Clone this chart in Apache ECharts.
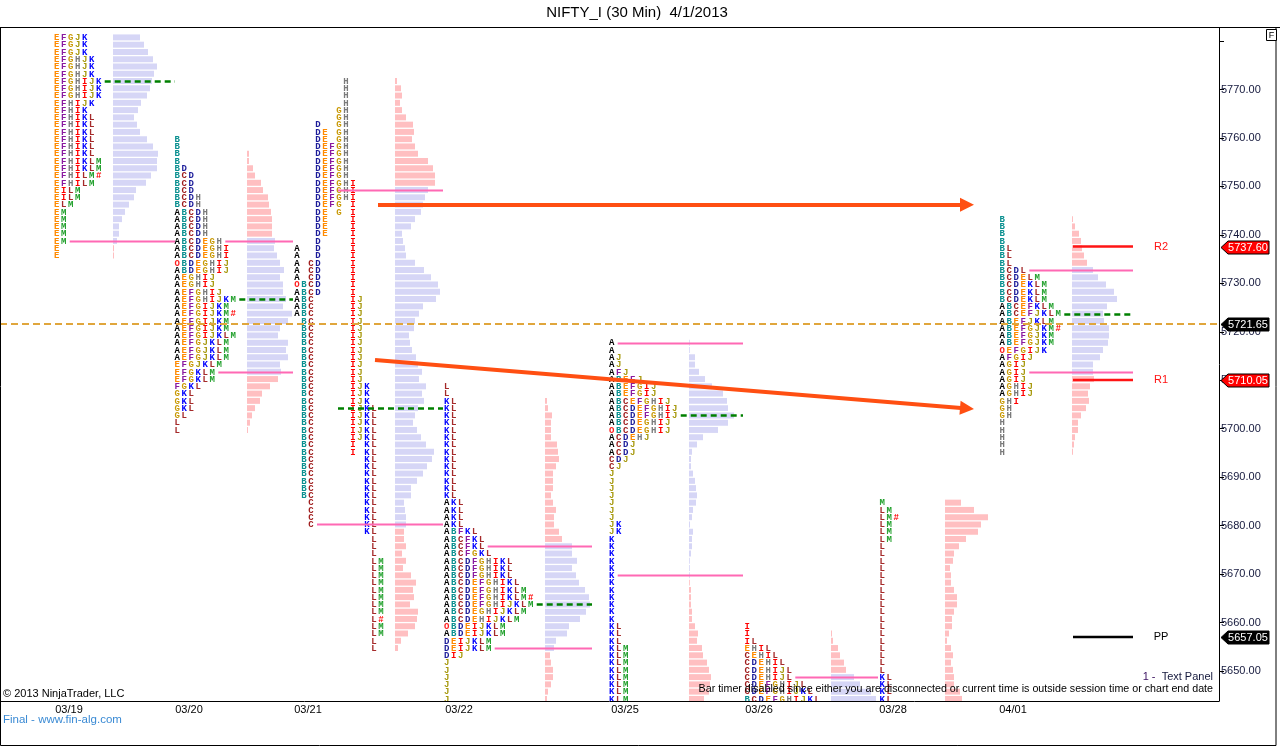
<!DOCTYPE html>
<html>
<head>
<meta charset="utf-8">
<title>NIFTY_I (30 Min) 4/1/2013</title>
<script src="https://cdn.jsdelivr.net/npm/echarts@6/dist/echarts.min.js"></script>
<style>
html,body{margin:0;padding:0;background:#fff;}
#chart{width:1280px;height:747px;}
</style>
</head>
<body>
<div id="chart"></div>
<script>
// ---- data ----
var rowSize = 1.5;
var days = ['03/19', '03/20', '03/21', '03/22', '03/25', '03/26', '03/28', '04/01'];
var topPrice = [5780.75, 5759.75, 5771.75, 5708.75, 5717.75, 5659.25, 5684.75, 5743.25];
var vaHigh   = [5784.25, 5738.75, 5749.25, 5675.75, 5717.75, 5648.75, 5640.00, 5732.75];
var pocPrice = [5771.75, 5726.75, 5704.25, 5663.75, 5702.75, 5630.00, 5620.00, 5723.75];
var vaLow    = [5738.75, 5711.75, 5680.25, 5654.75, 5669.75, 5600.00, 5600.00, 5711.75];

// TPO letters, one string per price row, top row first
var tpo0319 = ['EFGJK','EFGJK','EFGJK','EFGHJK','EFGHJK','EFGHJK','EFGHIJK','EFGHIJK','EFGHIJK','EFHIJK',
  'EFHIK','EFHIKL','EFHIKL','EFHIKL','EFHIKL','EFHIKL','EFHIKL','EFHIKLM','EFHIKLM','EFHILM#',
  'EFHILM','EILM','EILM','ELM','EM','EM','EM','EM','EM','E','E'];
var tpo0320 = ['B','B','B','B','BD','BCD','BCD','BCD','BCDH','BCDH',
  'ABCDH','ABCDH','ABCDH','ABCDH','ABCDEGH','ABCDEGHI','ABCDEGHI','OBDEGHIJ','ABDEGHIJ','AEGHIJ',
  'AEGHIJ','AEFGHIJ','AEFGHIJKM','AEFGIJKM','AEFGIJKM#','AEFGIJKM','AEFGIJKM','AEFGIJKLM','AEFGJKLM','AEFGJKLM',
  'AEFGJKLM','EFGJKLM','EFGKLM','EFGKLM','FGKL','GKL','GKL','GKL','GL','L','L'];
var tpo0321 = ['       H','       H','       H','       H','      GH','      GH','   D  GH','   DE GH','   DE GH','   DEFGH',
  '   DEFGH','   DEFGH','   DEFGH','   DEFGH','   DEFGHI','   DEFGHI','   DEFGHI','   DEFG I','   DE G I','   DE   I',
  '   DE   I','   DE   I','   D    I','A  D    I','A  D    I','A CD    I','A CD    I','A CD    I','OBCD    I','ABCD    I',
  'ABC     IJ','ABC     IJ','ABC     IJ',' BC     IJ',' BC     IJ',' BC     IJ',' BC     IJ',' BC     IJ',' BC     IJ',' BC     IJ',
  ' BC     IJ',' BC     IJ',' BC     IJK',' BC     IJK',' BC     IJK',' BC     IJKL',' BC     IJKL',' BC     IJKL',' BC     IJKL',' BC     IJKL',
  ' BC     I KL',' BC     I KL',' BC       KL',' BC       KL',' BC       KL',' BC       KL',' BC       KL',' BC       KL','  C       KL','  C       KL',
  '  C       KL','  C       KL','          KL','           L','           L','           L','           LM','           LM','           LM','           LM',
  '           LM','           LM','           LM','           LM','           L#','           LM','           LM','           L','           L'];
var tpo0322 = ['L','L','KL','KL','KL','KL','KL','KL','KL','KL',
  'KL','KL','KL','KL','KL','KL','AKL','AKL','AKL','AKL',
  'ABFKL','ABCFKL','ABCFKL','ABCFGKL','ABCDFGHIKL','ABCDFGHIKL','ABCDFGHIKL','ABCDEFGHIKL','ABCDEFGHIKLM','ABCDEFGHIKLM#',
  'ABCDEFGHIJKLM','ABCDEGHIJKLM','ABCDEHIJKLM','OBDEIJKLM','ABDEIJKLM','DEIJKLM','DEIJKLM','DIJ','J','J',
  'J','J','J','J'];
var tpo0325 = ['A','A','AJ','AJ','AFJ','ABEFJ','ABEFGIJ','ABEFGIJ','ABCEFGHIJ','ABCDEFGHIJ',
  'ABCDEFGHIJ','ABCDEGHIJ','OBCDEGHIJ','ACDEHJ','ACDJ','ACDJ','CDJ','CJ','J','J',
  'J','J','J','J','J','JK','JK','K','K','K',
  'K','K','K','K','K','K','K','K','K','KL',
  'KL','KL','KLM','KLM','KLM','KLM','KLM','KLM','KLM','KLM'];
var tpo0326 = ['I','I','IL','EHIL','CEHIL','CDEHIL','CDEHIJL','CDEHIJL','CDEFGHIJL','CDEFGHIJKL','BCDEFGHIJKL'];
var tpo0328 = ['M','LM','LM#','LM','LM','LM','L','L','L','L',
  'L','L','L','L','L','L','L','L','L','L',
  'L','L','L','L','KL','KL','KL','KL'];
var tpo0401 = ['B','B','B','B','BL','BL','BL','BCDL','BCDELM','BCDEKLM',
  'BCDEKLM','BCDEKLM','ABCEFKLM','ABCEFJKLM','ABEFJKLM','ABEFGJKM#','ABEFGJKM','ABEFGJKM','OEFGIJK','AFGIJ',
  'AGIJ','AGIJ','AGIJ','AGHIJ','AGHIJ','GHI','GH','GH','H','H',
  'H','H','H'];
var tpoRows = [tpo0319, tpo0320, tpo0321, tpo0322, tpo0325, tpo0326, tpo0328, tpo0401];

// volume histogram per price row (same rows as letters)
var vol0319 = [27,31,35,40,44,41,39,37,34,28,25,21,24,27,34,40,45,44,44,38,33,23,21,16,12,9,6,6,4,1,1];
var vol0320 = [0,0,2,2,6,8,14,16,21,22,24,25,25,25,28,27,30,33,37,33,36,36,39,36,45,41,33,31,41,39,41,33,34,31,23,15,13,8,5,3,1];
var vol0321 = [2,6,7,5,7,11,18,19,17,20,23,33,38,40,40,33,30,28,26,20,16,7,8,10,11,20,29,36,43,45,41,28,24,20,19,14,15,17,21,23,
  27,24,31,27,29,23,20,18,22,26,31,39,37,32,28,22,16,16,9,10,11,11,9,9,11,7,11,8,16,21,18,19,15,23,22,20,13,6,3];
var vol0322 = [0,0,2,3,7,6,6,6,12,13,14,11,8,8,8,6,8,11,9,9,14,17,27,27,32,27,31,34,40,44,45,41,35,24,22,11,9,5,6,8,8,6,3,2];
var vol0325 = [0.5,0.5,6,6,10,16,23,34,38,39,45,39,29,14,8,3,2,2,4,6,7,8,7,4,3,1,4,3,3,2,0.7,0.7,0.7,0.5,2,2,2,3,3,6,9,8,13,14,18,20,22,21,20,15];
var vol0326 = [0,1,2,7,9,13,15,23,29,40,45];
var vol0328 = [16,29,43,36,33,21,14,9,8,5,6,6,9,12,12,9,7,7,4,2,6,8,6,8,9,9,15,17];
var vol0401 = [1,3,7,9,10,12,15,21,26,34,42,45,35,31,32,37,37,36,31,28,21,21,22,18,16,17,14,9,6,6,3,2,1];
var volRows = [vol0319, vol0320, vol0321, vol0322, vol0325, vol0326, vol0328, vol0401];

var levelNames = ['R2', 'R1', 'PP'];
var levelValues = [5737.60, 5710.05, 5657.05];
var lastPrice = 5721.65;
var yTicks = [5650, 5660, 5670, 5680, 5690, 5700, 5710, 5720, 5730, 5740, 5750, 5760, 5770, 5780];
var yLabels = [5650, 5660, 5670, 5680, 5690, 5700, 5710, 5720, 5730, 5740, 5750, 5760, 5770];

// ---- layout (x in plot pixels) ----
var colW = 7;
var colX = [56.7, 177.3, 297, 446.7, 611.7, 747.3, 882.3, 1002.3];
var histX = [113, 247, 395, 545, 689, 831, 945, 1072];
var lineEnd = [175, 293, 443, 592, 743, 878, 995, 1133];
var dayTickX = [69, 189, 308, 459, 625, 759, 893, 1013];
var levelX = [1073, 1133, 1161];
var arrow1 = [[378, 5746.2], [967, 5746.2]];
var arrow2 = [[375, 5714.2], [967, 5704.2]];

var letterColor = {A:'#000000', B:'#0a9090', C:'#a01e1e', D:'#1c1c9a', E:'#ff8a00', F:'#8a1aa0', G:'#c99a06',
  H:'#7a7a7a', I:'#ff0000', J:'#a89a10', K:'#0000ff', L:'#a52a2a', M:'#1f9f2a', O:'#ff2020', '#':'#ff0000'};
var LETTER_FONT = 'bold 9px "Liberation Mono"';
var TXT = '"Liberation Sans", Arial, sans-serif';

// rows for the custom series
var rowItems = [];
for (var p = 0; p < tpoRows.length; p++) {
  for (var r = 0; r < tpoRows[p].length; r++) rowItems.push([p, r]);
}
var profItems = days.map(function (d, i) { return [i, 0]; });

function rowPrice(p, r) { return topPrice[p] - r * rowSize; }
function rowAt(p, price) {
  var r = Math.round((topPrice[p] - price) / rowSize);
  return (r >= 0 && r < tpoRows[p].length) ? r : -1;
}

function renderBar(params, api) {
  var p = api.value(0), r = api.value(1);
  var len = volRows[p][r];
  if (!len) return null;
  var price = rowPrice(p, r);
  var a = api.coord([histX[p], price + rowSize * 0.41]);
  var b = api.coord([histX[p] + len, price - rowSize * 0.41]);
  var inVa = price <= vaHigh[p] + 0.01 && price >= vaLow[p] - 0.01;
  return {
    type: 'rect',
    shape: { x: a[0], y: a[1], width: Math.max(b[0] - a[0], 0.8), height: b[1] - a[1] },
    style: { fill: inVa ? '#d6d6f6' : '#ffbfc1' }
  };
}

function renderLetters(params, api) {
  var p = api.value(0), r = api.value(1);
  var row = tpoRows[p][r], price = rowPrice(p, r);
  var kids = [];
  for (var i = 0; i < row.length; i++) {
    var ch = row.charAt(i);
    if (ch === ' ') continue;
    var pt = api.coord([colX[p] + i * colW, price]);
    kids.push({
      type: 'text', x: pt[0], y: pt[1] + 0.5,
      style: { text: ch, fill: letterColor[ch], font: LETTER_FONT, align: 'center', verticalAlign: 'middle' }
    });
  }
  return { type: 'group', children: kids };
}

function renderProfileLines(params, api) {
  var p = api.value(0);
  var marks = [[vaHigh[p], false], [pocPrice[p], true], [vaLow[p], false]];
  var kids = [];
  marks.forEach(function (m) {
    var r = rowAt(p, m[0]);
    if (r < 0) return;
    var n = tpoRows[p][r].replace(/ /g, '').length;
    var a = api.coord([colX[p] + n * colW - 1, m[0]]);
    var b = api.coord([lineEnd[p], m[0]]);
    kids.push({
      type: 'line',
      shape: { x1: a[0], y1: Math.round(a[1]) + 0.5, x2: b[0], y2: Math.round(b[1]) + 0.5 },
      style: m[1] ? { stroke: '#008000', lineWidth: 2.5, lineDash: [6, 4] } : { stroke: '#ff69b4', lineWidth: 2 }
    });
  });
  return { type: 'group', children: kids };
}

function renderLevels(params, api) {
  var i = api.value(0);
  var v = levelValues[i];
  var col = levelNames[i] === 'PP' ? '#000000' : '#ff1414';
  var a = api.coord([levelX[0], v]), b = api.coord([levelX[1], v]), c = api.coord([levelX[2], v]);
  return {
    type: 'group',
    children: [
      { type: 'line', shape: { x1: a[0], y1: a[1], x2: b[0], y2: b[1] }, style: { stroke: col, lineWidth: 2.5 } },
      { type: 'text', x: c[0], y: c[1], style: { text: levelNames[i], fill: col, font: '11px ' + TXT, align: 'center', verticalAlign: 'middle' } }
    ]
  };
}

var tagValues = [levelValues[0], lastPrice, levelValues[1], levelValues[2]];
var tagFill = ['#ff0000', '#000000', '#ff0000', '#000000'];
function renderTag(params, api) {
  var i = api.value(0);
  var pt = api.coord([1219, tagValues[i]]);
  var x = pt[0], y = Math.round(pt[1]) + 0.5;
  return {
    type: 'group',
    children: [
      { type: 'polygon', shape: { points: [[x + 2, y], [x + 9, y - 6.5], [x + 50, y - 6.5], [x + 50, y + 6.5], [x + 9, y + 6.5]] },
        style: { fill: tagFill[i], stroke: '#000', lineWidth: 1 } },
      { type: 'text', x: x + 29, y: y + 0.5, style: { text: tagValues[i].toFixed(2), fill: '#fff', font: '11px ' + TXT, align: 'center', verticalAlign: 'middle' } }
    ]
  };
}

var chart = echarts.init(document.getElementById('chart'));
chart.setOption({
  animation: false,
  backgroundColor: '#ffffff',
  grid: { left: 0, right: 61, top: 28, bottom: 46, outerBoundsMode: 'none' },
  xAxis: {
    type: 'value', min: 0, max: 1219,
    splitLine: { show: false },
    axisLine: { show: true, onZero: false, lineStyle: { color: '#000', width: 1 } },
    axisTick: { show: false },
    axisLabel: {
      customValues: dayTickX, margin: 3, color: '#000', fontSize: 11, fontFamily: TXT,
      formatter: function (v) { var i = dayTickX.indexOf(v); return i >= 0 ? days[i] : ''; }
    }
  },
  yAxis: {
    type: 'value', position: 'right', min: 5643.82, max: 5782.69,
    splitLine: { show: false },
    axisLine: { show: true, onZero: false, lineStyle: { color: '#000', width: 1 } },
    axisTick: { show: true, length: 5, customValues: yTicks, lineStyle: { color: '#000' } },
    axisLabel: {
      customValues: yLabels, margin: 2, color: '#14183c', fontSize: 11, fontFamily: TXT,
      formatter: function (v) { return v.toFixed(2); }
    }
  },
  series: [
    { type: 'custom', name: 'volume', data: rowItems, renderItem: renderBar, clip: true, z: 2, silent: true },
    { type: 'custom', name: 'tpo', data: rowItems, renderItem: renderLetters, clip: true, z: 3, silent: true },
    { type: 'custom', name: 'va', data: profItems, renderItem: renderProfileLines, clip: true, z: 4, silent: true },
    {
      type: 'line', name: 'last', data: [], z: 4, silent: true,
      markLine: {
        silent: true, symbol: 'none', label: { show: false },
        lineStyle: { color: '#e0a63c', width: 2, type: [7, 4] },
        data: [{ yAxis: lastPrice }]
      }
    },
    { type: 'custom', name: 'levels', data: levelNames.map(function (n, i) { return [i, 0]; }), renderItem: renderLevels, clip: false, z: 5, silent: true },
    {
      type: 'line', name: 'arrows', data: [], z: 6, silent: true,
      markLine: {
        silent: true, symbol: ['none', 'triangle'], symbolSize: 14, label: { show: false },
        lineStyle: { color: '#ff4f12', width: 4, type: 'solid' },
        data: [
          [{ coord: arrow1[0] }, { coord: arrow1[1] }],
          [{ coord: arrow2[0] }, { coord: arrow2[1] }]
        ]
      }
    },
    { type: 'custom', name: 'tags', data: tagValues.map(function (v, i) { return [i, 0]; }), renderItem: renderTag, clip: false, z: 7, silent: true }
  ],
  graphic: [
    { type: 'rect', z: 100, silent: true, shape: { x: 0.5, y: 27.5, width: 1275.5, height: 718 }, style: { fill: null, stroke: '#000', lineWidth: 1 } },
    { type: 'line', z: 100, silent: true, shape: { x1: 0, y1: 27.5, x2: 1280, y2: 27.5 }, style: { stroke: '#000', lineWidth: 1 } },
    { type: 'text', z: 100, x: 637, y: 13, style: { text: 'NIFTY_I (30 Min)  4/1/2013', font: '15px ' + TXT, fill: '#000', align: 'center', verticalAlign: 'middle' } },
    { type: 'rect', z: 100, shape: { x: 1266.5, y: 29.5, width: 10, height: 11 }, style: { fill: '#fff', stroke: '#000', lineWidth: 1 } },
    { type: 'text', z: 101, x: 1271.5, y: 35.5, style: { text: 'F', font: '9px ' + TXT, fill: '#000', align: 'center', verticalAlign: 'middle' } },
    { type: 'text', z: 100, x: 3, y: 694, style: { text: '\u00a9 2013 NinjaTrader, LLC', font: '11px ' + TXT, fill: '#000', align: 'left', verticalAlign: 'middle' } },
    { type: 'text', z: 100, x: 3, y: 720, style: { text: 'Final - www.fin-alg.com', font: '11.5px ' + TXT, fill: '#3a8ad4', align: 'left', verticalAlign: 'middle' } },
    { type: 'text', z: 100, x: 1213, y: 677, style: { text: '{a|1 -  }{b|Text Panel}', align: 'right', verticalAlign: 'middle',
        rich: { a: { font: '11px ' + TXT, fill: '#3a1060' }, b: { font: '11px ' + TXT, fill: '#14183c' } } } },
    { type: 'text', z: 100, x: 1213, y: 689, style: { text: 'Bar timer disabled since either you are disconnected or current time is outside session time or chart end date',
        font: '10.7px ' + TXT, fill: '#000', align: 'right', verticalAlign: 'middle' } }
  ]
});
</script>
</body>
</html>
